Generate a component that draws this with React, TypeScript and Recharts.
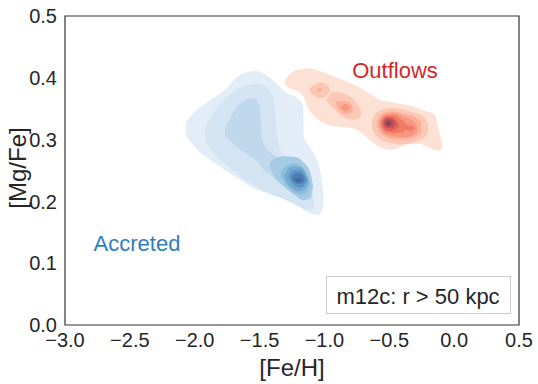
import { ComposedChart, Area, XAxis, YAxis, ReferenceArea } from 'recharts';

type Band = [number, number, number][]; // [Fe/H, lower [Mg/Fe], upper [Mg/Fe]]

// accreted stars, outermost contour first
const accreted1: Band = [
  [-2.07, 0.307, 0.328], [-2.0, 0.288, 0.345], [-1.88, 0.267, 0.364], [-1.77, 0.251, 0.38],
  [-1.65, 0.235, 0.405], [-1.535, 0.22, 0.411], [-1.42, 0.212, 0.4], [-1.3, 0.204, 0.377],
  [-1.21, 0.194, 0.367], [-1.165, 0.188, 0.356], [-1.157, 0.186, 0.303], [-1.11, 0.181, 0.288],
  [-1.05, 0.178, 0.262], [-1.02, 0.185, 0.235], [-1.005, 0.198, 0.205],
];
const accreted2: Band = [
  [-1.92, 0.299, 0.319], [-1.84, 0.275, 0.348], [-1.73, 0.254, 0.372], [-1.61, 0.235, 0.387],
  [-1.51, 0.222, 0.39], [-1.435, 0.214, 0.383], [-1.39, 0.209, 0.364], [-1.37, 0.208, 0.32],
  [-1.34, 0.206, 0.283], [-1.265, 0.199, 0.262], [-1.19, 0.191, 0.249], [-1.126, 0.186, 0.232],
  [-1.088, 0.188, 0.21], [-1.08, 0.195, 0.202],
];
const accreted3: Band = [
  [-1.766, 0.307, 0.319], [-1.69, 0.291, 0.348], [-1.61, 0.278, 0.364], [-1.535, 0.267, 0.367],
  [-1.497, 0.259, 0.351], [-1.481, 0.254, 0.299], [-1.42, 0.243, 0.28], [-1.342, 0.23, 0.27],
  [-1.265, 0.218, 0.267], [-1.19, 0.207, 0.259], [-1.126, 0.202, 0.238], [-1.096, 0.206, 0.215],
];
const accreted4: Band = [
  [-1.42, 0.254, 0.262], [-1.381, 0.239, 0.27], [-1.304, 0.222, 0.273], [-1.227, 0.21, 0.272],
  [-1.165, 0.202, 0.264], [-1.111, 0.207, 0.248], [-1.088, 0.222, 0.227],
];
const accreted5: Band = [
  [-1.335, 0.24, 0.248], [-1.288, 0.225, 0.258], [-1.227, 0.214, 0.261], [-1.165, 0.211, 0.254],
  [-1.126, 0.219, 0.24], [-1.111, 0.226, 0.232],
];
const accreted6: Band = [
  [-1.304, 0.236, 0.243], [-1.258, 0.222, 0.256], [-1.196, 0.216, 0.256], [-1.15, 0.22, 0.248],
  [-1.126, 0.228, 0.236],
];
const accreted7: Band = [
  [-1.273, 0.237, 0.242], [-1.234, 0.226, 0.251], [-1.18, 0.222, 0.25], [-1.15, 0.228, 0.242],
  [-1.134, 0.233, 0.236],
];
const accreted8: Band = [
  [-1.25, 0.236, 0.24], [-1.211, 0.229, 0.246], [-1.173, 0.229, 0.243], [-1.153, 0.234, 0.238],
];
const accreted9: Band = [
  [-1.227, 0.234, 0.236], [-1.2, 0.23, 0.238], [-1.173, 0.233, 0.236],
];

// outflow stars
const outflow1: Band = [
  [-1.304, 0.39, 0.396], [-1.265, 0.383, 0.406], [-1.211, 0.379, 0.413], [-1.165, 0.371, 0.414],
  [-1.126, 0.351, 0.416], [-1.072, 0.337, 0.414], [-1.011, 0.327, 0.409], [-0.934, 0.322, 0.403],
  [-0.841, 0.32, 0.395], [-0.764, 0.317, 0.388], [-0.702, 0.309, 0.381], [-0.633, 0.296, 0.372],
  [-0.571, 0.288, 0.364], [-0.494, 0.283, 0.361], [-0.417, 0.288, 0.358], [-0.34, 0.293, 0.355],
  [-0.263, 0.293, 0.349], [-0.201, 0.288, 0.345], [-0.147, 0.283, 0.34], [-0.124, 0.282, 0.319],
  [-0.093, 0.285, 0.296],
];
const outflow2a: Band = [
  [-1.119, 0.38, 0.382], [-1.088, 0.372, 0.388], [-1.034, 0.367, 0.393], [-0.988, 0.371, 0.39],
  [-0.957, 0.378, 0.383],
];
const outflow2b: Band = [
  [-0.98, 0.362, 0.366], [-0.934, 0.351, 0.377], [-0.864, 0.338, 0.375], [-0.787, 0.332, 0.367],
  [-0.733, 0.335, 0.353], [-0.718, 0.34, 0.346],
];
const outflow2c: Band = [
  [-0.633, 0.317, 0.333], [-0.587, 0.303, 0.345], [-0.494, 0.294, 0.351], [-0.402, 0.292, 0.349],
  [-0.302, 0.296, 0.343], [-0.232, 0.303, 0.336], [-0.201, 0.312, 0.326],
];
const outflow3a: Band = [[-1.057, 0.379, 0.381], [-1.038, 0.377, 0.384], [-1.018, 0.379, 0.381]];
const outflow3b: Band = [
  [-0.911, 0.357, 0.361], [-0.88, 0.346, 0.362], [-0.833, 0.341, 0.362], [-0.795, 0.343, 0.358],
  [-0.78, 0.348, 0.352],
];
const outflow3c: Band = [
  [-0.595, 0.322, 0.33], [-0.556, 0.308, 0.342], [-0.479, 0.301, 0.346], [-0.386, 0.3, 0.342],
  [-0.302, 0.304, 0.337], [-0.255, 0.312, 0.328],
];
const outflow4b: Band = [[-0.872, 0.351, 0.353], [-0.837, 0.346, 0.358], [-0.803, 0.351, 0.353]];
const outflow4c: Band = [
  [-0.579, 0.322, 0.33], [-0.54, 0.31, 0.34], [-0.463, 0.305, 0.343], [-0.378, 0.304, 0.336],
  [-0.317, 0.307, 0.33], [-0.286, 0.314, 0.322],
];
const outflow5: Band = [
  [-0.564, 0.322, 0.33], [-0.533, 0.313, 0.338], [-0.471, 0.31, 0.34], [-0.409, 0.311, 0.333],
  [-0.363, 0.318, 0.324],
];
const outflow5b: Band = [[-0.386, 0.318, 0.321], [-0.344, 0.314, 0.323], [-0.302, 0.317, 0.32]];
const outflow6: Band = [
  [-0.552, 0.323, 0.329], [-0.525, 0.316, 0.336], [-0.479, 0.314, 0.336], [-0.44, 0.318, 0.329],
  [-0.425, 0.322, 0.325],
];
const outflow7: Band = [
  [-0.54, 0.324, 0.329], [-0.517, 0.319, 0.334], [-0.479, 0.319, 0.333], [-0.456, 0.324, 0.328],
];
const outflow8: Band = [[-0.525, 0.325, 0.328], [-0.506, 0.322, 0.331], [-0.487, 0.325, 0.328]];

const accretedLayers = [accreted1, accreted2, accreted3, accreted4, accreted5, accreted6, accreted7, accreted8, accreted9];
const accretedColors = ['#e3edf7', '#d4e4f2', '#bfd8ec', '#a5cbe4', '#8dbddc', '#73a9d2', '#5b93c4', '#4c7cb4', '#4d6a9c'];

const outflowLayers = [outflow1, outflow2a, outflow2b, outflow2c, outflow3a, outflow3b, outflow3c, outflow4b, outflow4c, outflow5, outflow5b, outflow6, outflow7, outflow8];
const outflowLevels = [0, 1, 1, 1, 2, 2, 2, 3, 3, 4, 4, 5, 6, 7];
const outflowColors = ['#fde1d5', '#fcc8b5', '#fbaf98', '#f8977f', '#f07b67', '#e0605a', '#c04c5a', '#8c4360'];

const xTicks = [-3.0, -2.5, -2.0, -1.5, -1.0, -0.5, 0.0, 0.5];
const yTicks = [0.0, 0.1, 0.2, 0.3, 0.4, 0.5];

const FONT = '"Liberation Sans", Arial, sans-serif';
const INK = '#262626';

const toRows = (band: Band) => band.map(([x, lo, hi]) => ({ x, range: [lo, hi] }));
const fmt = (v: number) => v.toFixed(1).replace('-', '\u2212');

export default function App() {
  return (
    <div style={{ position: 'absolute', left: 0, top: 0, background: '#fff' }}>
      <ComposedChart width={538} height={384} margin={{ top: 16, right: 19, left: 0, bottom: 0 }}>
        <XAxis
          type="number"
          dataKey="x"
          domain={[-3, 0.5]}
          ticks={xTicks}
          tickFormatter={fmt}
          allowDataOverflow
          axisLine={false}
          tickLine={false}
          height={59}
          tick={{ fill: INK, fontSize: 20, fontFamily: FONT }}
          label={{ value: '[Fe/H]', position: 'insideBottom', offset: 8, fill: INK, fontSize: 24, fontFamily: FONT }}
        />
        <YAxis
          type="number"
          domain={[0, 0.5]}
          ticks={yTicks}
          tickFormatter={fmt}
          allowDataOverflow
          axisLine={false}
          tickLine={false}
          width={65}
          tick={{ fill: INK, fontSize: 20, fontFamily: FONT }}
        />
        {accretedLayers.map((band, i) => (
          <Area
            key={`acc-${i}`}
            data={toRows(band)}
            dataKey="range"
            type="monotone"
            stroke="none"
            fill={accretedColors[i]}
            fillOpacity={1}
            isAnimationActive={false}
            dot={false}
            activeDot={false}
          />
        ))}
        {outflowLayers.map((band, i) => (
          <Area
            key={`out-${i}`}
            data={toRows(band)}
            dataKey="range"
            type="monotone"
            stroke="none"
            fill={outflowColors[outflowLevels[i]]}
            fillOpacity={1}
            isAnimationActive={false}
            dot={false}
            activeDot={false}
          />
        ))}
        <ReferenceArea x1={-3} x2={0.5} y1={0} y2={0.5} fill="none" stroke="#333333" strokeWidth={1.2} ifOverflow="visible" />
        <text x={17} y={168} transform="rotate(-90 17 168)" textAnchor="middle" dominantBaseline="central" fill={INK} fontSize={24} fontFamily={FONT}>[Mg/Fe]</text>
        <text x={395} y={78} textAnchor="middle" fill="#d62728" fontSize={22} fontFamily={FONT}>Outflows</text>
        <text x={137} y={251} textAnchor="middle" fill="#2f7ebc" fontSize={22} fontFamily={FONT}>Accreted</text>
        <rect x={326.5} y={276.5} width={184} height={37} fill="#fff" stroke="#cccccc" strokeWidth={1} />
        <text x={418} y={304} textAnchor="middle" fill={INK} fontSize={22} fontFamily={FONT}>m12c: r &gt; 50 kpc</text>
      </ComposedChart>
    </div>
  );
}
